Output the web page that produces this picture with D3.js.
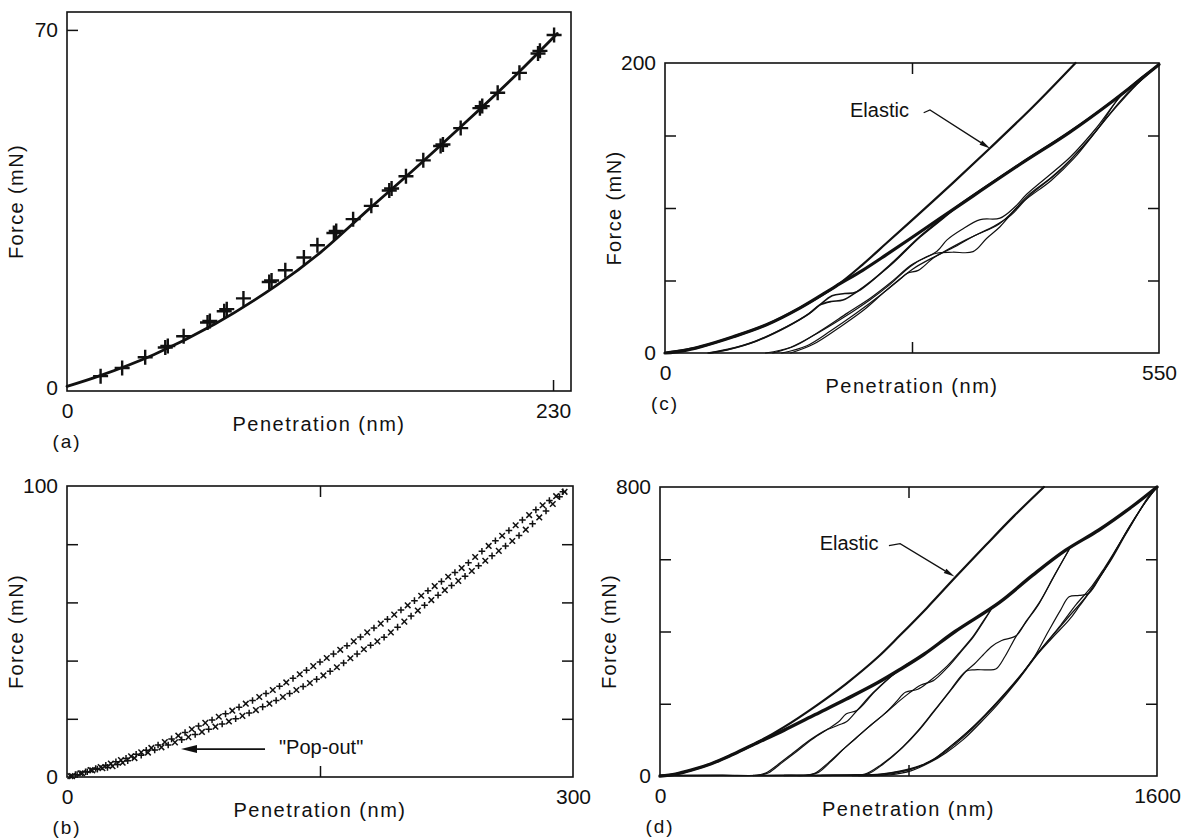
<!DOCTYPE html>
<html>
<head>
<meta charset="utf-8">
<script src="https://cdn.jsdelivr.net/npm/d3@7.9.0/dist/d3.min.js"></script>
<style>
  html, body { margin: 0; padding: 0; background: #fff; }
  svg { display: block; font-family: "Liberation Sans", Arial, Helvetica, sans-serif; }
</style>
</head>
<body>
<svg id="fig" width="1186" height="838"></svg>
<script>
// ---- panel (a): fitted curve + measured points (nm, mN)
const aCurve = [[0,0.3],[15,2.3],[41,6.5],[70,12.5],[99,20.0],[120,26.5],[143,35.0],[165,43.0],[187,51.3],[210,60.2],[232,69.3]];
const aPoints = [[15.9,2.3],[26.1,3.9],[37.0,6.0],[46.5,7.9],[47.7,8.2],[55.2,10.1],[66.5,12.8],[67.6,13.1],
  [74.4,15.0],[75.6,15.4],[83.5,17.5],[95.7,20.7],[96.8,21.0],[103.3,23.0],[112.1,25.5],[118.5,27.9],
  [126.3,30.3],[127.4,30.7],[135.4,33.0],[144.0,35.6],[152.5,38.6],[153.6,39.0],[160.4,41.4],[168.6,44.5],
  [176.8,47.3],[177.9,47.6],[186.3,50.8],[195.4,54.7],[196.5,55.1],[203.8,57.7],[214.1,61.6],[222.9,65.4],
  [223.8,65.9],[230.5,69.0]];
const aXLabels = [0, 230];
const aYLabels = [0, 70];

// ---- panel (b): two point series
const bUpper = [[2,0.3],[5,0.8],[8,1.3],[11,1.8],[14,2.4],[17,2.9],[20,3.4],[23,4.0],[26,4.6],[29,5.2],[32,5.8],
  [35,6.4],[38,7.1],[41,7.8],[44,8.5],[47,9.2],[50,10.0],[54,11.0],[58,12.0],[62,13.1],[66,14.2],[70,15.3],
  [74,16.4],[78,17.5],[82,18.6],[86,19.6],[90,20.7],[94,21.7],[98,22.8],[102,24.0],[106,25.2],[110,26.3],
  [114,27.5],[118,28.7],[122,29.9],[126,31.2],[130,32.5],[134,33.9],[138,35.3],[142,36.7],[146,38.1],
  [150,39.5],[154,40.9],[158,42.3],[162,43.7],[166,45.1],[170,46.6],[174,48.1],[178,49.7],[182,51.2],
  [186,52.7],[190,54.2],[194,55.8],[198,57.4],[202,59.0],[206,60.6],[210,62.3],[214,64.0],[218,65.6],
  [222,67.2],[226,68.8],[230,70.3],[234,71.8],[238,73.6],[242,75.6],[246,77.6],[250,79.4],[254,81.2],
  [258,82.9],[262,84.7],[266,86.5],[270,88.3],[274,90.0],[278,91.8],[282,93.4],[286,95.0],[290,96.5],[294,98.0]];
const bLower = [[3,0.3],[6,0.8],[9,1.3],[12,1.8],[15,2.3],[18,2.7],[21,3.0],[24,3.3],[27,3.7],[30,4.3],[33,4.9],
  [36,5.6],[40,6.5],[44,7.5],[48,8.4],[52,9.3],[56,10.2],[60,11.0],[64,11.9],[68,12.8],[72,13.7],[76,14.6],
  [80,15.5],[84,16.4],[88,17.3],[92,18.2],[96,19.1],[100,20.0],[104,21.0],[108,22.0],[112,23.0],[116,24.1],
  [120,25.2],[124,26.3],[128,27.5],[132,28.7],[136,29.9],[140,31.1],[144,32.3],[148,33.6],[152,34.9],
  [156,36.3],[160,37.7],[164,39.2],[168,40.8],[172,42.3],[176,43.9],[180,45.3],[184,46.6],[188,48.0],
  [192,49.7],[196,51.5],[200,53.4],[204,55.3],[208,57.2],[212,59.0],[216,60.8],[220,62.5],[224,64.2],
  [228,65.8],[232,67.4],[236,69.0],[240,70.8],[244,72.6],[248,74.3],[252,76.0],[256,77.7],[260,79.4],
  [264,81.1],[268,83.0],[272,85.0],[276,87.0],[280,89.2],[284,91.4],[288,93.8],[292,96.3],[295,98.0]];
const bXLabels = [0, 300];
const bYLabels = [0, 100];
const bPopArrow = [[117.4,9.6],[67.6,9.6]];
const bPopTextAt = [125.7, 9.6];

// ---- panel (c)
const cElastic = [[0,0],[40,4.4],[76,11.2],[113,19.5],[150,31],[190,46],[220,61],[247,76],[284,96.6],[320,117],[362,141.4],[410,170],[457,200]];
const cLoad = [[0,0],[20,1.5],[40,4.4],[76,11.2],[113,19.5],[150,31],[190,46],[220,57],[247,68],[290,86],[328,102],[395,130],[450,152],[499,174],[550,199]];
const cCycle2 = [
  [[48,0],[70,2.5],[100,8],[135,18],[160,27],[172,33],[185,35.5],[198,36.5],[213,42],[250,60],[284,80],[310,93],[328,102],[395,130],[450,152],[499,174],[550,199]],
  [[50,0],[72,2.6],[102,8.3],[137,18.5],[160,27],[172,33],[186,39.5],[200,41],[213,42],[250,60.5],[284,80.5],[310,93.5],[328,102.5],[395,130.5],[450,152.5],[499,174],[550,199]]
];
const cCycle3 = [
  [[112,0],[140,4],[172.6,14.7],[200,25],[228,36.6],[250,47],[272.8,59.5],[290,66],[302.5,68.8],[320,69.5],[343,69.9],[358,79],[373,87.1],[402.7,107.8],[430,121],[451,133],[480,153],[506.6,176.8],[530,189],[550,199]],
  [[120,0],[145,5],[175,16],[203,27.5],[230,38.5],[252,49],[275,61],[302.5,70],[314,78],[330,85],[351,92],[373,93],[390,101],[402.7,109.5],[451,135],[480,155],[507,177],[530,190],[550,199]],
  [[130,0],[158,5],[185,15.5],[212,27],[240,40],[262,51],[270,55],[282,57],[300,66],[325,74],[345,81],[372,89],[400,105],[430,119],[455,134],[485,157],[510,176],[535,191],[550,199]],
  [[140,0],[165,6],[195,18],[222,30],[246,43],[276,58],[305,68],[335,78],[365,87],[385,95],[405,108],[440,126],[470,146],[500,168],[525,185],[550,199]]
];
const cXLabels = [0, 550];
const cYLabels = [0, 200];
const cElasticTextAt = [206, 166.4];
const cElasticArrow = [[288,165.7],[295,167.6],[362,141]];

// ---- panel (d)
const dElastic = [[0,0],[50,5.3],[100,16],[165,34],[230,58],[298,86],[400,136],[500,193],[600,256],[700,328],[771,388],[860,466],[953,552],[1050,640],[1140,720],[1236,800]];
const dLoad = [[0,0],[50,5.3],[100,16],[165,34],[230,58],[298,86],[400,127],[500,170],[600,213],[700,258],[771,294],[850,337],[950,400],[1092,480],[1200,556],[1306,625],[1413,681],[1520,746],[1600,800]];
const dCycleA = [
  [[0,1],[200,1.5],[310,2],[340,8],[380,32],[430,65],[480,98],[530,125],[575,141],[600,150],[635,182],[684,229],[740,273],[800,312]],
  [[0,2],[200,2.5],[320,2.5],[350,9],[390,35],[440,68],[490,102],[540,130],[575,150],[600,172],[635,182],[690,232],[745,276],[800,312]]
];
const dCycleB = [
  [[300,1],[420,1.5],[470,2],[500,8],[540,35],[587,72],[630,104],[672,136],[720,170],[760,200],[800,228],[840,252],[880,264],[925,300],[970,345],[1009,385],[1040,425],[1069,465]],
  [[300,2],[430,2.5],[480,3],[510,10],[550,40],[595,78],[640,112],[680,142],[725,174],[760,205],[790,232],[830,240],[864,260],[925,305],[970,348],[1009,388],[1040,428],[1069,465]]
];
const dCycleC = [
  [[400,1],[560,1.5],[620,2],[660,5],[710,30],[771,72],[830,125],[880,178],[930,232],[985,290],[1012,294],[1050,294],[1081,296],[1110,330],[1146,386],[1180,428],[1221,478],[1270,555],[1317,627]],
  [[400,2],[570,2.5],[630,3],[670,6],[720,34],[780,78],[835,128],[885,182],[935,236],[985,290],[1012,310],[1040,335],[1070,360],[1100,375],[1146,388],[1180,430],[1221,480],[1270,556],[1317,627]]
];
const dCycleD = [
  [[500,1],[600,2],[700,4],[771,12],[830,25],[878,44],[930,78],[985,118],[1040,163],[1092,210],[1150,265],[1199,321],[1260,380],[1317,432],[1350,470],[1381,506],[1420,555],[1456,607],[1511,690],[1576,774],[1600,800]],
  [[520,2],[620,3],[710,5],[775,14],[835,28],[880,46],[935,82],[990,122],[1045,168],[1095,214],[1150,268],[1199,321],[1250,400],[1290,460],[1317,496],[1350,500],[1381,506],[1420,556],[1456,608],[1511,690],[1576,774],[1600,800]],
  [[620,1],[720,3],[790,14],[850,32],[900,55],[950,88],[1005,130],[1060,178],[1110,225],[1165,283],[1215,340],[1270,395],[1320,445],[1370,495],[1410,545],[1450,595],[1500,670],[1560,755],[1600,800]],
  [[640,1],[740,3],[810,15],[870,38],[920,64],[975,100],[1030,146],[1085,196],[1140,252],[1190,308],[1240,365],[1290,418],[1340,475],[1390,525],[1430,575],[1470,630],[1520,700],[1570,770],[1600,800]]
];
const dXLabels = [0, 1600];
const dYLabels = [0, 800];
const dElasticTextAt = [514, 640];
const dElasticArrow = [[737,638],[773,643],[948,552]];

// ---- figure
const INK = '#111';
const svg = d3.select('#fig');
svg.append('rect').attr('width', 1186).attr('height', 838).attr('fill', '#fff');

function tickAxis(g, axis, values, transform) {
  if (!values.length) return;
  g.append('g')
    .attr('transform', transform)
    .call(axis.tickValues(values).tickSize(11).tickFormat(''))
    .call(s => s.select('.domain').remove())
    .selectAll('line').attr('stroke', INK).attr('stroke-width', 1.5);
}

function drawPanel(cfg) {
  const b = cfg.box;
  const g = svg.append('g');
  const x = d3.scaleLinear().domain(cfg.x).range([b.left, b.right]);
  const y = d3.scaleLinear().domain(cfg.y).range([b.bottom, b.top]);

  g.append('rect')
    .attr('x', b.left).attr('y', b.top)
    .attr('width', b.right - b.left).attr('height', b.bottom - b.top)
    .attr('fill', 'none').attr('stroke', INK).attr('stroke-width', 1.6);

  // inward ticks
  tickAxis(g, d3.axisRight(y), cfg.ticks.left, `translate(${b.left},0)`);
  tickAxis(g, d3.axisLeft(y), cfg.ticks.right, `translate(${b.right},0)`);
  tickAxis(g, d3.axisTop(x), cfg.ticks.bottom, `translate(0,${b.bottom})`);
  tickAxis(g, d3.axisBottom(x), cfg.ticks.top, `translate(0,${b.top})`);

  // tick labels
  const fmt = d3.format('d');
  const fontAttrs = s => s.attr('font-size', 21).attr('font-family', null).attr('color', INK);
  g.append('g').attr('transform', `translate(${b.left},0)`)
    .call(d3.axisLeft(y).tickValues(cfg.yLab).tickFormat(fmt).tickSize(0).tickPadding(9))
    .call(fontAttrs)
    .call(s => s.select('.domain').remove());
  g.append('g').attr('transform', `translate(0,${b.bottom})`)
    .call(d3.axisBottom(x).tickValues(cfg.xLab).tickFormat(fmt).tickSize(0).tickPadding(12))
    .call(fontAttrs)
    .call(s => s.select('.domain').remove());

  // axis titles + panel tag
  g.append('text')
    .attr('x', (b.left + b.right) / 2).attr('y', b.bottom + 35)
    .attr('text-anchor', 'middle').attr('dominant-baseline', 'middle')
    .attr('font-size', 20).attr('letter-spacing', 1.5).attr('fill', INK)
    .text('Penetration (nm)');
  g.append('text')
    .attr('transform', `translate(${b.left - 49},${(b.top + b.bottom) / 2}) rotate(-90)`)
    .attr('text-anchor', 'middle').attr('dominant-baseline', 'middle')
    .attr('font-size', 20).attr('letter-spacing', 1.4).attr('fill', INK)
    .text('Force (mN)');
  g.append('text')
    .attr('x', b.left).attr('y', b.bottom + 52)
    .attr('text-anchor', 'middle').attr('dominant-baseline', 'middle')
    .attr('font-size', 19).attr('letter-spacing', 2).attr('fill', INK)
    .text(cfg.tag);

  const plot = g.append('g');
  return { g: plot, x, y };
}

function curve(p, data, width) {
  const line = d3.line()
    .x(d => p.x(d[0])).y(d => p.y(d[1]))
    .curve(d3.curveCatmullRom.alpha(0.5));
  p.g.append('path').datum(data)
    .attr('d', line)
    .attr('fill', 'none').attr('stroke', INK)
    .attr('stroke-width', width).attr('stroke-linejoin', 'round').attr('stroke-linecap', 'round');
}

function arrow(p, pts, headLen, headHalf, width) {
  const px = pts.map(d => [p.x(d[0]), p.y(d[1])]);
  const [tx, ty] = px[px.length - 1];
  const [sx, sy] = px[px.length - 2];
  const len = Math.hypot(tx - sx, ty - sy);
  const ux = (tx - sx) / len, uy = (ty - sy) / len;
  const bx = tx - ux * headLen, by = ty - uy * headLen;
  const shaft = px.slice(0, -1).concat([[bx, by]]);
  p.g.append('path')
    .attr('d', d3.line()(shaft))
    .attr('fill', 'none').attr('stroke', INK).attr('stroke-width', width);
  p.g.append('path')
    .attr('d', `M${tx},${ty}L${bx - uy * headHalf},${by + ux * headHalf}L${bx + uy * headHalf},${by - ux * headHalf}Z`)
    .attr('fill', INK);
}

function note(p, at, text) {
  p.g.append('text')
    .attr('x', p.x(at[0])).attr('y', p.y(at[1]))
    .attr('dominant-baseline', 'middle')
    .attr('font-size', 20).attr('fill', INK)
    .text(text);
}

// (a)
const pa = drawPanel({
  box: { left: 67, right: 571, top: 12, bottom: 391 },
  x: [0, 238.5], y: [-0.6, 73.5],
  xLab: aXLabels, yLab: aYLabels, tag: '(a)',
  ticks: { left: [70], right: [], top: [], bottom: [230] }
});
curve(pa, aCurve, 2.8);
pa.g.selectAll('path.plus').data(aPoints).join('path')
  .attr('class', 'plus')
  .attr('d', d => {
    const cx = pa.x(d[0]), cy = pa.y(d[1]);
    return `M${cx - 7.5},${cy}h15M${cx},${cy - 7.5}v15`;
  })
  .attr('stroke', INK).attr('stroke-width', 2.4).attr('fill', 'none');

// (b)
const pb = drawPanel({
  box: { left: 67, right: 573, top: 486, bottom: 777 },
  x: [0, 300], y: [0, 100],
  xLab: bXLabels, yLab: bYLabels, tag: '(b)',
  ticks: { left: [20, 40, 60, 80], right: [20, 40, 60, 80], top: [150], bottom: [150] }
});
[bUpper, bLower].forEach(series => {
  pb.g.append('g').selectAll('path').data(series).join('path')
    .attr('d', (d, i) => {
      const cx = pb.x(d[0]), cy = pb.y(d[1]);
      return i % 2
        ? `M${cx - 3.3},${cy}h6.6M${cx},${cy - 3.3}v6.6`
        : `M${cx - 2.8},${cy - 2.8}l5.6,5.6M${cx - 2.8},${cy + 2.8}l5.6,-5.6`;
    })
    .attr('stroke', INK).attr('stroke-width', 1.5).attr('fill', 'none');
});
arrow(pb, bPopArrow, 16, 4, 1.8);
note(pb, bPopTextAt, '"Pop-out"');

// (c)
const pc = drawPanel({
  box: { left: 665, right: 1159, top: 63, bottom: 353 },
  x: [0, 550], y: [0, 200],
  xLab: cXLabels, yLab: cYLabels, tag: '(c)',
  ticks: { left: [50, 100, 150], right: [50, 100, 150], top: [275], bottom: [275] }
});
cCycle3.forEach(d => curve(pc, d, 1.2));
cCycle2.forEach(d => curve(pc, d, 1.6));
curve(pc, cLoad, 3.2);
curve(pc, cElastic, 2.2);
note(pc, cElasticTextAt, 'Elastic');
arrow(pc, cElasticArrow, 11, 2.5, 1.3);

// (d)
const pd = drawPanel({
  box: { left: 660, right: 1157, top: 487, bottom: 776 },
  x: [0, 1600], y: [0, 800],
  xLab: dXLabels, yLab: dYLabels, tag: '(d)',
  ticks: { left: [200, 400, 600], right: [200, 400, 600], top: [800], bottom: [800] }
});
[...dCycleA, ...dCycleB, ...dCycleC, ...dCycleD].forEach(d => curve(pd, d, 1.2));
curve(pd, dLoad, 3.4);
curve(pd, dElastic, 2.2);
note(pd, dElasticTextAt, 'Elastic');
arrow(pd, dElasticArrow, 11, 2.5, 1.3);
</script>
</body>
</html>
